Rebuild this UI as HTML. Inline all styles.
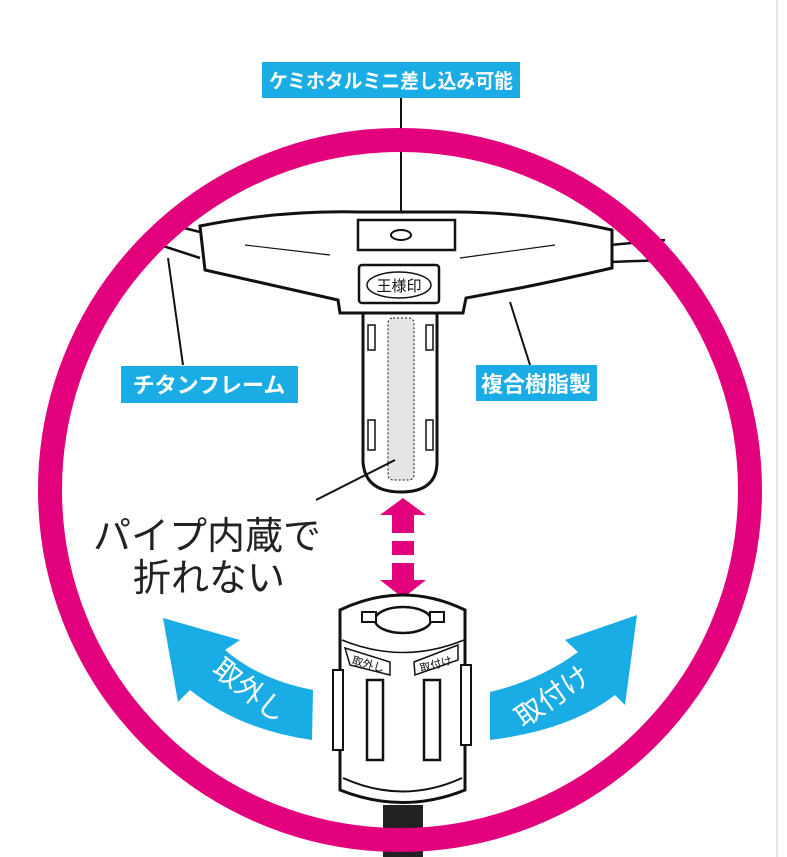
<!DOCTYPE html>
<html><head><meta charset="utf-8"><style>
html,body{margin:0;padding:0;background:#fff;}
svg{display:block;}
text{font-family:"Liberation Sans","Noto Sans CJK JP",sans-serif;}
</style></head><body>
<svg width="787" height="857" viewBox="0 0 787 857" xmlns="http://www.w3.org/2000/svg">
<rect width="787" height="857" fill="#fff"/>
<line x1="777" y1="0" x2="777" y2="857" stroke="#e6e6e6" stroke-width="2"/>
<!-- top label -->
<rect x="262" y="62" width="258" height="36" fill="#1aace5"/>
<text x="391" y="88" font-size="20" font-weight="bold" fill="#fff" text-anchor="middle" textLength="244" lengthAdjust="spacingAndGlyphs">ケミホタルミニ差し込み可能</text>
<line x1="401" y1="98" x2="401" y2="232" stroke="#111" stroke-width="2"/>
<!-- frame wires -->
<path d="M160 222 L200 232 M160 245 L200 258" stroke="#111" stroke-width="2.5" fill="none"/>
<path d="M610 245 L665 240 M610 262 L665 260" stroke="#111" stroke-width="2.5" fill="none"/>
<!-- bottom cap (behind ring) -->
<rect x="383" y="805" width="40" height="52" fill="#222"/>
<!-- ring -->
<circle cx="400" cy="490" r="350" fill="none" stroke="#e2007d" stroke-width="24"/>
<!-- T body -->
<path d="M200 226 Q280 210 360 212 L455 212 Q530 212 612 230 L612 268 Q560 280 520 288 L466 298 L463 313 L340 313 L338 300 L205 270 Z" fill="#fff" stroke="#111" stroke-width="3"/>
<path d="M358 220 L455 220 L455 250 L358 250 Z" fill="#fff" stroke="#111" stroke-width="2.5"/>
<ellipse cx="401" cy="235" rx="10" ry="5" fill="#fff" stroke="#111" stroke-width="2"/>
<path d="M245 245 L330 255 M460 258 L555 245" stroke="#111" stroke-width="1.2"/>
<rect x="359" y="265" width="80" height="38" rx="3" fill="#fff" stroke="#111" stroke-width="2.5"/>
<ellipse cx="399" cy="285" rx="32" ry="13" fill="#fff" stroke="#111" stroke-width="1.5"/>
<text x="399" y="291" font-size="15" text-anchor="middle" fill="#111">王様印</text>
<!-- stem -->
<path d="M363 313 L363 462 Q365 492 401 492 Q437 492 437 462 L437 313 Z" fill="#fff" stroke="#111" stroke-width="3"/>
<rect x="388" y="318" width="26" height="162" rx="5" fill="#e5e5e5" stroke="#111" stroke-width="1" stroke-dasharray="2 2"/>
<rect x="368" y="325" width="7" height="25" fill="#fff" stroke="#111" stroke-width="1.5"/>
<rect x="426" y="325" width="7" height="25" fill="#fff" stroke="#111" stroke-width="1.5"/>
<rect x="368" y="420" width="7" height="30" fill="#fff" stroke="#111" stroke-width="1.5"/>
<rect x="426" y="420" width="7" height="30" fill="#fff" stroke="#111" stroke-width="1.5"/>
<!-- leaders -->
<path d="M168 258 L183 365" stroke="#111" stroke-width="2" fill="none"/>
<path d="M510 302 L530 365" stroke="#111" stroke-width="2" fill="none"/>
<path d="M316 500 L395 460" stroke="#111" stroke-width="2" fill="none"/>
<rect x="121" y="366" width="177" height="37" fill="#1aace5"/>
<text x="209" y="393" font-size="22" font-weight="bold" fill="#fff" text-anchor="middle">チタンフレーム</text>
<rect x="476" y="365" width="121" height="36" fill="#1aace5"/>
<text x="536" y="392" font-size="22" font-weight="bold" fill="#fff" text-anchor="middle">複合樹脂製</text>
<!-- main text -->
<text x="93" y="549" font-size="38" fill="#222">パイプ内蔵で</text>
<text x="133" y="591" font-size="38" fill="#222">折れない</text>
<!-- pink arrow -->
<path d="M403 498 L426 515 L414 515 L414 533 L392 533 L392 515 L380 515 Z" fill="#e2007d"/>
<rect x="392" y="541" width="22" height="14" fill="#e2007d"/>
<path d="M392 563 L414 563 L414 580 L426 580 L403 598 L380 580 L392 580 Z" fill="#e2007d"/>
<!-- blue arrows -->
<path d="M313 690 L312 740 Q240 730 190 690 L178 702 L163 618 L240 640 L225 650 Q260 680 313 690 Z" fill="#1aace5"/>
<text x="250" y="700" font-size="28" fill="#fff" text-anchor="middle" transform="rotate(38 250 690)">取外し</text>
<path d="M490 692 L490 740 Q570 730 615 695 L625 705 L637 615 L565 640 L578 652 Q540 680 490 692 Z" fill="#1aace5"/>
<text x="555" y="705" font-size="28" fill="#fff" text-anchor="middle" transform="rotate(-35 555 700)">取付け</text>
<!-- bottom piece -->
<path d="M340 610 Q403 580 465 610 L465 790 Q403 815 340 790 Z" fill="#fff" stroke="#111" stroke-width="3"/>
<path d="M343 778 Q403 805 462 778" stroke="#111" stroke-width="2" fill="none"/>
<path d="M342 640 Q403 665 464 640" stroke="#111" stroke-width="1.5" fill="none"/>
<ellipse cx="403" cy="620" rx="28" ry="13" fill="#fff" stroke="#111" stroke-width="2.5"/>
<rect x="362" y="612" width="14" height="10" fill="#fff" stroke="#111" stroke-width="2"/>
<rect x="430" y="612" width="14" height="10" fill="#fff" stroke="#111" stroke-width="2"/>
<ellipse cx="403" cy="620" rx="26" ry="11" fill="#fff"/>
<path d="M345 648 L390 662 L390 675 L350 665 Z" fill="#fff" stroke="#111" stroke-width="1.5"/>
<text x="368" y="668" font-size="11" fill="#111" text-anchor="middle" transform="rotate(15 368 665)">取外し</text>
<path d="M414 662 L458 645 L458 660 L415 675 Z" fill="#fff" stroke="#111" stroke-width="1.5"/>
<text x="436" y="668" font-size="11" fill="#111" text-anchor="middle" transform="rotate(-15 436 665)">取付け</text>
<rect x="367" y="680" width="16" height="80" fill="#fff" stroke="#111" stroke-width="2.5"/>
<rect x="424" y="680" width="16" height="80" fill="#fff" stroke="#111" stroke-width="2.5"/>
<rect x="333" y="670" width="10" height="80" fill="#fff" stroke="#111" stroke-width="2"/>
<rect x="461" y="665" width="10" height="80" fill="#fff" stroke="#111" stroke-width="2"/>
</svg>
</body></html>
